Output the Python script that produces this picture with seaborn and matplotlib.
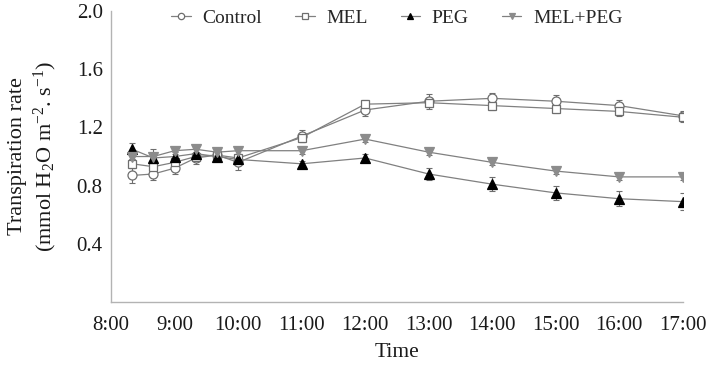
import numpy as np
import pandas as pd
import seaborn as sns
import matplotlib
matplotlib.use("Agg")
import matplotlib.pyplot as plt
from matplotlib.ticker import MultipleLocator, FixedLocator, FuncFormatter

# sampling times
times = ["8:20", "8:40", "9:00", "9:20", "9:40", "10:00", "11:00", "12:00",
         "13:00", "14:00", "15:00", "16:00", "17:00"]

# transpiration rate, mean values
control = [0.87, 0.88, 0.92, 0.99, 1.01, 0.96, 1.14, 1.32, 1.38, 1.40, 1.38, 1.35, 1.28]
mel = [0.95, 0.93, 0.96, 1.00, 1.01, 0.99, 1.13, 1.36, 1.37, 1.35, 1.33, 1.31, 1.27]
peg = [1.05, 0.99, 1.00, 1.02, 1.00, 0.98, 0.95, 0.99, 0.88, 0.81, 0.75, 0.71, 0.69]
mel_peg = [1.00, 1.00, 1.04, 1.05, 1.03, 1.04, 1.04, 1.12, 1.03, 0.96, 0.90, 0.86, 0.86]

# error bars (SE)
control_err = [0.05, 0.04, 0.04, 0.04, 0.03, 0.05, 0.04, 0.04, 0.05, 0.04, 0.04, 0.04, 0.03]
mel_err = [0.03, 0.03, 0.03, 0.03, 0.03, 0.03, 0.03, 0.03, 0.03, 0.03, 0.03, 0.03, 0.03]
peg_err = [0.04, 0.06, 0.03, 0.03, 0.03, 0.03, 0.02, 0.03, 0.04, 0.05, 0.05, 0.05, 0.06]
mel_peg_err = [0.02, 0.02, 0.02, 0.02, 0.02, 0.02, 0.02, 0.02, 0.02, 0.02, 0.02, 0.02, 0.02]

series = ["Control", "MEL", "PEG", "MEL+PEG"]


def to_hours(t):
    h, m = t.split(":")
    return int(h) + int(m) / 60


hours = [to_hours(t) for t in times]

df = pd.DataFrame({
    "Time": hours * 4,
    "Rate": control + mel + peg + mel_peg,
    "Err": control_err + mel_err + peg_err + mel_peg_err,
    "Group": [s for s in series for _ in times],
})

sns.set_style("white")
plt.rcParams["font.family"] = ["Liberation Serif", "DejaVu Serif"]
plt.rcParams["mathtext.fontset"] = "custom"
plt.rcParams["mathtext.rm"] = "Liberation Serif"
plt.rcParams["mathtext.it"] = "Liberation Serif:italic"

fig = plt.figure(figsize=(7.09, 3.68), dpi=100)
ax = fig.add_axes([0.1566, 0.1793, 0.8064, 0.7907])

axis_grey = "#b3b3b3"
line_grey = "#808080"
styles = {
    "Control": dict(marker="o", markerfacecolor="white", markeredgecolor="#6e6e6e", markersize=6.5),
    "MEL": dict(marker="s", markerfacecolor="white", markeredgecolor="#6e6e6e", markersize=6),
    "PEG": dict(marker="^", markerfacecolor="black", markeredgecolor="black", markersize=6.5),
    "MEL+PEG": dict(marker="v", markerfacecolor="#8c8c8c", markeredgecolor="#8c8c8c", markersize=6.5),
}

for name in series:
    sub = df[df["Group"] == name]
    ax.errorbar(sub["Time"], sub["Rate"], yerr=sub["Err"], fmt="none",
                ecolor="#6e6e6e", elinewidth=0.8, capsize=2, capthick=0.8, zorder=2)
    sns.lineplot(data=sub, x="Time", y="Rate", ax=ax, color=line_grey, linewidth=0.9,
                 markeredgewidth=0.9, label=name, zorder=3, **styles[name])

ax.set_xlim(8, 17)
ax.set_ylim(0, 2.0)
ax.xaxis.set_major_locator(MultipleLocator(1))
ax.xaxis.set_minor_locator(MultipleLocator(1 / 3))
ax.xaxis.set_major_formatter(FuncFormatter(lambda v, p: f"{int(round(v))}:00"))
ax.yaxis.set_major_locator(FixedLocator([0.4, 0.8, 1.2, 1.6, 2.0]))
ax.yaxis.set_major_formatter(FuncFormatter(lambda v, p: f"{v:.1f}"))

for side in ["top", "right"]:
    ax.spines[side].set_visible(False)
for side in ["left", "bottom"]:
    ax.spines[side].set_color(axis_grey)
    ax.spines[side].set_linewidth(1.0)

ax.tick_params(axis="both", which="both", direction="out", color=axis_grey,
               labelsize=15, labelcolor="#1a1a1a", width=0.9)
ax.tick_params(axis="both", which="major", length=4)
ax.tick_params(axis="x", which="minor", length=4)
ax.tick_params(axis="y", which="major", pad=2)
ax.tick_params(axis="x", which="major", pad=6)

ax.set_xlabel("Time", fontsize=15.5, labelpad=6, color="#1a1a1a")
ax.set_ylabel("Transpiration rate\n(mmol H$_2$O m$^{-2}$. s$^{-1}$)", fontsize=16,
              labelpad=13, color="#1a1a1a", linespacing=1.2)

ax.legend(loc="center", bbox_to_anchor=(0.50, 0.976), ncol=4, frameon=False,
          fontsize=14, handlelength=1.0, columnspacing=1.7, handletextpad=0.6,
          markerscale=0.7)

plt.savefig("out.png", dpi=100)
plt.close()
